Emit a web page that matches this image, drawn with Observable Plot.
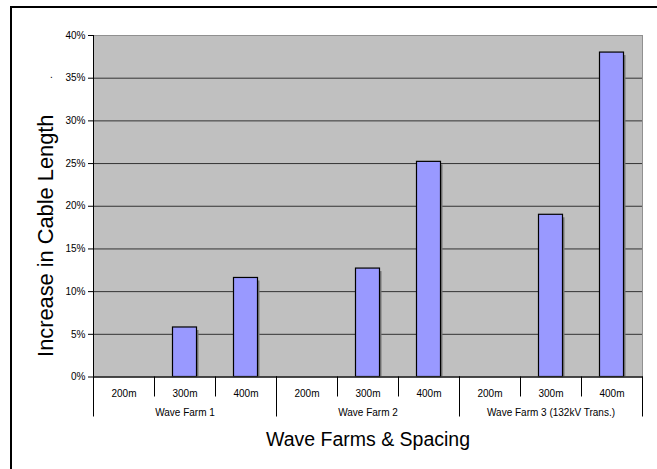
<!DOCTYPE html>
<html>
<head>
<meta charset="utf-8">
<script src="https://cdn.jsdelivr.net/npm/d3@7"></script>
<script src="https://cdn.jsdelivr.net/npm/@observablehq/plot@0.6"></script>
<style>
  html, body { margin: 0; padding: 0; background: #fff; }
  body { width: 657px; height: 469px; position: relative; overflow: hidden; font-family: "Liberation Sans", Arial, sans-serif; }
  #border { position: absolute; left: 10px; top: 6px; width: 700px; height: 500px; border-left: 2px solid #000; border-top: 2px solid #000; }
  #chart { position: absolute; left: 0; top: 0; }
</style>
</head>
<body>
<div id="border"></div>
<div id="chart"></div>
<script>
// Data
const groups = ["Wave Farm 1", "Wave Farm 2", "Wave Farm 3 (132kV Trans.)"];
const spacings = ["200m", "300m", "400m"];
const farm1 = [0, 0.058, 0.116];
const farm2 = [0, 0.127, 0.252];
const farm3 = [0, 0.190, 0.380];
const yTicks = [0, 0.05, 0.10, 0.15, 0.20, 0.25, 0.30, 0.35, 0.40];
const xTitle = "Wave Farms & Spacing";
const yTitle = "Increase in Cable Length";

// Build table
const series = [farm1, farm2, farm3];
const rows = [];
groups.forEach((g, gi) => spacings.forEach((s, si) => {
  rows.push({group: g, spacing: s, index: gi * spacings.length + si, value: series[gi][si]});
}));
const bars = rows.filter(d => d.value > 0);
const n = rows.length;
const boundaries = d3.range(0, n + 1);
const groupBounds = d3.range(0, n + 1, spacings.length);
const centers = rows.map(d => d.index + 0.5);
const groupCenters = groups.map((g, gi) => gi * spacings.length + spacings.length / 2);

const font = "Liberation Sans, Arial, sans-serif";

const chart = Plot.plot({
  width: 657,
  height: 469,
  marginTop: 35,
  marginLeft: 93,
  marginRight: 15,
  marginBottom: 92.5,
  style: {fontFamily: font, fontSize: "10px", background: "transparent", overflow: "visible"},
  x: {type: "linear", domain: [0, n]},
  y: {domain: [0, 0.4]},
  marks: [
    Plot.frame({fill: "#c0c0c0", stroke: null}),
    Plot.gridY(yTicks, {stroke: "#333", strokeOpacity: 1, strokeWidth: 1}),
    // bar shadow
    Plot.rectY(bars, {x1: d => d.index, x2: d => d.index + 1, y: "value", insetLeft: 18.5, insetRight: 18.5, insetTop: 3, dx: 2, fill: "#777"}),
    Plot.rectY(bars, {x1: d => d.index, x2: d => d.index + 1, y: "value", insetLeft: 18.5, insetRight: 18.5, fill: "#9999ff", stroke: "#000", strokeWidth: 1.2}),
    Plot.frame({stroke: "#909090", fill: null}),
    Plot.ruleY([0], {stroke: "#000"}),
    Plot.ruleX([0], {stroke: "#000"}),
    Plot.axisY(yTicks, {tickFormat: d3.format(".0%"), tickSize: 5, tickPadding: 3, label: null, fontSize: 10, fill: "#000"}),
    // category dividers
    Plot.axisX(boundaries, {tickSize: 20, tickFormat: () => "", label: null, stroke: "#000"}),
    // group dividers
    Plot.axisX(groupBounds, {tickSize: 40, tickFormat: () => "", label: null, stroke: "#000"}),
    // spacing labels
    Plot.axisX(centers, {tickSize: 0, tickPadding: 12.5, tickFormat: v => rows[Math.floor(v)].spacing, label: null, fontSize: 10, fill: "#000"}),
    // group labels
    Plot.axisX(groupCenters, {tickSize: 0, tickPadding: 31.5, tickFormat: v => groups[Math.floor(v / spacings.length)], label: null, fontSize: 10, fill: "#000"}),
    // axis titles
    Plot.text([xTitle], {frameAnchor: "bottom", lineAnchor: "bottom", dy: 68.5, fontSize: 19.5, fill: "#000"}),
    Plot.text([yTitle], {frameAnchor: "left", textAnchor: "middle", lineAnchor: "bottom", rotate: -90, dx: -41, dy: 29.5, fontSize: 21.8, fill: "#000"}),
    Plot.text(["."], {frameAnchor: "top-left", textAnchor: "middle", lineAnchor: "bottom", dx: -42, dy: 42, fontSize: 10, fill: "#000"})
  ]
});
document.getElementById("chart").appendChild(chart);
</script>
</body>
</html>
